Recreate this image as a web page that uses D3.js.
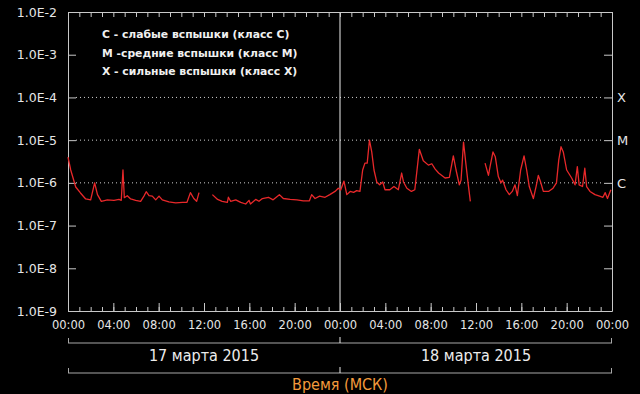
<!DOCTYPE html>
<html>
<head>
<meta charset="utf-8">
<script src="https://cdnjs.cloudflare.com/ajax/libs/d3/7.8.5/d3.min.js"></script>
<style>
  html, body { margin: 0; padding: 0; background: #000; }
  svg { display: block; }
  .axis text { font-family: "DejaVu Sans", sans-serif; fill: #e6e6e6; }
  .axis line, .axis path { stroke: #c8c8c8; }
</style>
</head>
<body>
<div id="chart"></div>
<script>
// hours after 17.03.2015 00:00 MSK, null = no data
const hours = [
  0.0, 0.24, 0.68, 1.1, 1.56, 2.0, 2.35, 2.6, 2.94, 3.47, 4.06, 4.5, 4.7, 4.85, 4.97,
  5.23, 5.53, 5.97, 6.41, 6.7, 6.9, 7.15, 7.44, 7.74, 8.03, 8.32, 8.9, 9.5, 10.1, 10.5,
  10.8, 11.1, 11.35, 11.56, 12.1, 12.74, 13.2, 13.6, 14.06, 14.15, 14.35, 14.8, 15.24,
  15.68, 15.97, 16.1, 16.56, 16.85, 17.15, 17.68, 18.1, 18.65, 19.0, 19.6, 20.2, 20.76,
  21.3, 21.5, 21.8, 22.2, 22.68, 23.1, 23.56, 23.85, 24.06, 24.35, 24.6, 24.9, 25.2,
  25.47, 25.76, 26.0, 26.2, 26.4, 26.6, 26.8, 27.0, 27.24, 27.5, 27.77, 27.97, 28.4,
  28.76, 29.15, 29.44, 29.6, 29.9, 30.3, 30.6, 31.0, 31.35, 31.8, 32.1, 32.4, 32.7,
  33.27, 33.65, 34.0, 34.24, 34.53, 34.68, 34.9, 35.1, 35.3, 35.5, 36.1, 36.8, 37.1,
  37.24, 37.5, 37.7, 37.97, 38.2, 38.35, 38.65, 38.94, 39.2, 39.44, 39.65, 39.94, 40.24,
  40.47, 40.7, 41.06, 41.3, 41.5, 41.7, 41.94, 42.4, 42.8, 43.1, 43.3, 43.5, 43.7, 44.0,
  44.44, 44.74, 44.94, 45.1, 45.4, 45.6, 45.76, 46.06, 46.5, 46.9, 47.2, 47.4, 47.6, 47.9
];
// X-ray flux, W/m2
const flux = [
  4.0e-6, 2.0e-6, 8.0e-7, 5.8e-7, 4.2e-7, 4.0e-7, 1.0e-6, 5.3e-7, 3.7e-7, 4.0e-7, 3.9e-7, 4.1e-7, 3.9e-7, 2.0e-6, 4.5e-7,
  5.0e-7, 4.2e-7, 3.9e-7, 3.7e-7, 4.9e-7, 6.2e-7, 5.0e-7, 4.9e-7, 4.0e-7, 4.9e-7, 4.0e-7, 3.6e-7, 3.4e-7, 3.5e-7, 3.5e-7,
  5.9e-7, 4.3e-7, 3.7e-7, 5.9e-7, null, 5.3e-7, 4.1e-7, 3.7e-7, 3.5e-7, 4.6e-7, 3.7e-7, 4.0e-7, 3.5e-7,
  3.2e-7, 3.9e-7, 3.2e-7, 4.1e-7, 3.7e-7, 4.3e-7, 4.6e-7, 4.0e-7, 5.3e-7, 4.3e-7, 4.1e-7, 4.0e-7, 3.8e-7,
  3.8e-7, 5.3e-7, 4.3e-7, 4.9e-7, 4.6e-7, 5.3e-7, 6.3e-7, 7.5e-7, 6.8e-7, 1.1e-6, 5.3e-7, 6.3e-7, 6.0e-7,
  6.6e-7, 6.3e-7, 2.0e-6, 2.9e-6, 2.9e-6, 1.0e-5, 5.3e-6, 2.0e-6, 1.05e-6, 9.0e-7, 1.05e-6, 6.9e-7, 6.9e-7,
  8.2e-7, 6.9e-7, 1.7e-6, 1.05e-6, 7.5e-7, 6.3e-7, 6.9e-7, 6.1e-6, 3.3e-6, 2.6e-6, 2.8e-6, 2.1e-6, 1.7e-6,
  1.3e-6, 1.35e-6, 4.3e-6, 2.0e-6, 9.0e-7, 1.16e-6, 9.0e-6, 2.9e-6, 1.0e-6, 3.7e-7, null, 2.9e-6, 1.5e-6,
  2.4e-6, 5.3e-6, 4.1e-6, 1.4e-6, 1.0e-6, 1.16e-6, 6.9e-7, 5.3e-7, 6.3e-7, 9.0e-7, 5.0e-7, 2.0e-6, 4.3e-6,
  2.0e-6, 8.2e-7, 4.3e-7, 8.2e-7, 1.5e-6, 1.05e-6, 6.3e-7, 6.3e-7, 7.5e-7, 1.0e-6, 3.4e-6, 7.0e-6, 5.3e-6, 2.0e-6,
  1.3e-6, 9.0e-7, 2.4e-6, 9.0e-7, 8.2e-7, 2.2e-6, 8.2e-7, 6.3e-7, 5.3e-7, 4.9e-7, 4.6e-7, 5.9e-7, 4.3e-7, 6.9e-7
];

const decades = [1e-2, 1e-3, 1e-4, 1e-5, 1e-6, 1e-7, 1e-8, 1e-9];
const classLines = [1e-4, 1e-5, 1e-6];
const classLabels = { 1e-4: 'X', 1e-5: 'M', 1e-6: 'C' };
const legend = [
  'C - слабые вспышки (класс C)',
  'M -средние вспышки (класс M)',
  'X - сильные вспышки (класс X)'
];
const days = ['17 марта 2015', '18 марта 2015'];
const axisTitle = 'Время (МСК)';

const width = 640;
const height = 394;
const plotLeft = 68, plotRight = 612, plotTop = 12, plotBottom = 311;

const start = new Date(2015, 2, 17, 0, 0);
const end = new Date(2015, 2, 19, 0, 0);
const toDate = h => new Date(start.getTime() + h * 3600e3);

const svg = d3.select('#chart')
              .append('svg')
              .attr('width', width)
              .attr('height', height);

const xScale = d3.scaleTime()
                 .domain([start, end])
                 .range([plotLeft, plotRight]);

const yScale = d3.scaleLog()
                 .domain([1e-9, 1e-2])
                 .range([plotBottom, plotTop]);

// dotted class lines
svg.append('g')
   .selectAll('line')
   .data(classLines)
   .enter()
   .append('line')
   .attr('x1', plotLeft + 8)
   .attr('x2', plotRight - 8)
   .attr('y1', d => yScale(d))
   .attr('y2', d => yScale(d))
   .attr('stroke', '#d0d0d0')
   .attr('stroke-dasharray', '1,3');

// day divider
svg.append('line')
   .attr('x1', xScale(toDate(24)))
   .attr('x2', xScale(toDate(24)))
   .attr('y1', plotTop)
   .attr('y2', plotBottom)
   .attr('stroke', '#f0f0f0');

// y axes
svg.append('g')
   .attr('class', 'axis')
   .attr('transform', 'translate(' + plotLeft + ',0)')
   .call(d3.axisLeft(yScale)
           .tickValues(decades)
           .tickSizeInner(-8)
           .tickSizeOuter(0)
           .tickPadding(11)
           .tickFormat(d => '1.0E' + Math.round(Math.log10(d))))
   .call(g => g.selectAll('text').style('font-size', '12.5px'));

svg.append('g')
   .attr('class', 'axis')
   .attr('transform', 'translate(' + plotRight + ',0)')
   .call(d3.axisRight(yScale)
           .tickValues(decades)
           .tickSizeInner(-8)
           .tickSizeOuter(0)
           .tickPadding(5)
           .tickFormat(d => classLabels[d] || ''))
   .call(g => g.selectAll('text').style('font-size', '13px'));

// x axes
svg.append('g')
   .attr('class', 'axis')
   .attr('transform', 'translate(0,' + plotTop + ')')
   .call(d3.axisTop(xScale)
           .ticks(d3.timeHour.every(1))
           .tickSizeInner(-5)
           .tickSizeOuter(0)
           .tickFormat(''));

svg.append('g')
   .attr('class', 'axis')
   .attr('transform', 'translate(0,' + plotBottom + ')')
   .call(d3.axisBottom(xScale)
           .ticks(d3.timeHour.every(1))
           .tickSizeInner(-4)
           .tickSizeOuter(0)
           .tickFormat(''));

svg.append('g')
   .attr('class', 'axis')
   .attr('transform', 'translate(0,' + plotBottom + ')')
   .call(d3.axisBottom(xScale)
           .ticks(d3.timeHour.every(4))
           .tickSizeInner(-8)
           .tickSizeOuter(0)
           .tickPadding(10)
           .tickFormat(d3.timeFormat('%H:%M')))
   .call(g => g.select('.domain').remove())
   .call(g => g.selectAll('text').style('font-size', '11.5px'));

// flux curve
const points = hours.map((h, i) => ({ t: toDate(h), v: flux[i] }));

const line = d3.line()
               .defined(d => d.v !== null)
               .x(d => xScale(d.t))
               .y(d => yScale(d.v));

svg.append('path')
   .datum(points)
   .attr('d', line)
   .attr('fill', 'none')
   .attr('stroke', '#e8282a')
   .attr('stroke-width', 1.3)
   .attr('stroke-linejoin', 'round');

// legend
svg.append('g')
   .selectAll('text')
   .data(legend)
   .enter()
   .append('text')
   .attr('x', 102)
   .attr('y', (d, i) => 38 + i * 18.5)
   .attr('fill', '#f0f0f0')
   .style('font-family', '"DejaVu Sans", sans-serif')
   .style('font-weight', 'bold')
   .style('font-size', '10.8px')
   .text(d => d);

// brackets under the axis
function bracket(y) {
  const g = svg.append('g').attr('stroke', '#a8a8a8');
  g.append('line').attr('x1', plotLeft).attr('x2', plotRight).attr('y1', y).attr('y2', y);
  g.append('line').attr('x1', plotLeft + 0.5).attr('x2', plotLeft + 0.5).attr('y1', y - 5).attr('y2', y);
  g.append('line').attr('x1', plotRight - 0.5).attr('x2', plotRight - 0.5).attr('y1', y - 5).attr('y2', y);
  g.append('line')
   .attr('x1', xScale(toDate(24))).attr('x2', xScale(toDate(24)))
   .attr('y1', y - 6).attr('y2', y)
   .attr('stroke', '#e8e8e8');
}
bracket(343);
bracket(373);

svg.append('g')
   .selectAll('text')
   .data(days)
   .enter()
   .append('text')
   .attr('x', (d, i) => xScale(toDate(12 + i * 24)))
   .attr('y', 361)
   .attr('text-anchor', 'middle')
   .attr('fill', '#ececec')
   .style('font-family', '"DejaVu Sans Condensed", "DejaVu Sans", sans-serif')
   .style('font-stretch', 'condensed')
   .style('font-size', '16px')
   .text(d => d);

svg.append('text')
   .attr('x', xScale(toDate(24)))
   .attr('y', 390)
   .attr('text-anchor', 'middle')
   .attr('fill', '#f39a3c')
   .style('font-family', '"DejaVu Sans Condensed", "DejaVu Sans", sans-serif')
   .style('font-stretch', 'condensed')
   .style('font-size', '16px')
   .text(axisTitle);
</script>
</body>
</html>
